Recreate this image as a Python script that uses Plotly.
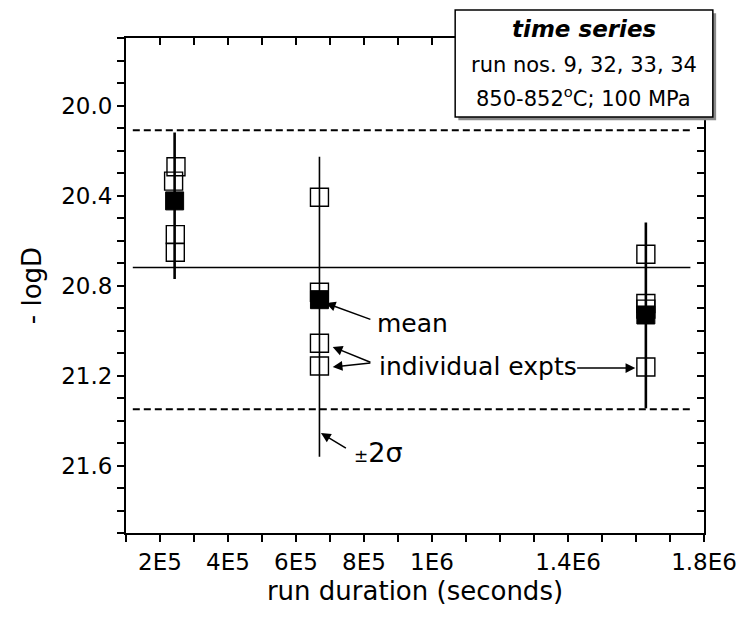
import plotly.graph_objects as go

# ---- data ----
group_x = [2.43e5, 6.69e5, 1.629e6]
group_mean = [20.424, 20.863, 20.931]
group_top = [20.12, 20.228, 20.52]      # -2 sigma end (upper on plot)
group_bottom = [20.771, 21.561, 21.346]  # +2 sigma end (lower on plot)
bar_width = [2.6, 1.6, 2.6]

indiv_x = [2.47e5, 2.40e5, 2.45e5, 2.45e5,
           6.69e5, 6.69e5, 6.69e5, 6.69e5,
           1.629e6, 1.629e6, 1.629e6, 1.629e6]
indiv_y = [20.272, 20.336, 20.574, 20.652,
           20.408, 20.830, 21.057, 21.158,
           20.661, 20.880, 20.905, 21.162]

overall_mean = 20.72
sigma_lines = [20.11, 21.35]
ref_x = [1.2e5, 1.76e6]

x_ticks = [i * 1e5 for i in range(1, 19)]
x_labels = {2e5: "2E5", 4e5: "4E5", 6e5: "6E5", 8e5: "8E5", 1e6: "1E6",
            1.4e6: "1.4E6", 1.8e6: "1.8E6"}
y_ticks = [round(19.7 + 0.1 * i, 1) for i in range(23)]
y_labels = {20.0: "20.0", 20.4: "20.4", 20.8: "20.8", 21.2: "21.2", 21.6: "21.6"}

FONT = "DejaVu Sans, Liberation Sans, Arial, sans-serif"

fig = go.Figure()

# reference lines
for yv in sigma_lines:
    fig.add_trace(go.Scatter(x=ref_x, y=[yv, yv], mode="lines",
                             line=dict(color="black", width=1.8, dash="7px,4px"),
                             showlegend=False, hoverinfo="skip"))
fig.add_trace(go.Scatter(x=ref_x, y=[overall_mean, overall_mean], mode="lines",
                         line=dict(color="black", width=1.6),
                         showlegend=False, hoverinfo="skip"))

# error bars (+-2 sigma) as vertical lines
for gx, gt, gb, w in zip(group_x, group_top, group_bottom, bar_width):
    fig.add_trace(go.Scatter(x=[gx, gx], y=[gt, gb], mode="lines",
                             line=dict(color="black", width=w),
                             showlegend=False, hoverinfo="skip"))

# individual experiments
fig.add_trace(go.Scatter(x=indiv_x, y=indiv_y, mode="markers",
                         marker=dict(symbol="square-open", size=18, color="black",
                                     line=dict(width=1.4, color="black")),
                         showlegend=False))
# means
fig.add_trace(go.Scatter(x=group_x, y=group_mean, mode="markers",
                         marker=dict(symbol="square", size=18, color="black",
                                     line=dict(width=1, color="black")),
                         showlegend=False))

# dummy trace to activate mirror axes (top / right ticks pointing inward)
fig.add_trace(go.Scatter(x=[None], y=[None], xaxis="x2", yaxis="y2",
                         showlegend=False, hoverinfo="skip"))

axis_common = dict(showgrid=False, zeroline=False, showline=True,
                   linecolor="black", linewidth=2, tickcolor="black",
                   tickwidth=1.6, ticklen=7)

fig.update_layout(
    width=749, height=621,
    margin=dict(l=126, r=33, t=38, b=88),
    paper_bgcolor="white", plot_bgcolor="white",
    font=dict(family=FONT, color="black"),
    xaxis=dict(range=[1e5, 1.8e6], tickmode="array", tickvals=x_ticks,
               ticktext=[x_labels.get(v, "") for v in x_ticks], ticks="outside",
               tickfont=dict(size=23, family=FONT, color="black"),
               title=dict(text="run duration (seconds)", font=dict(size=26, family=FONT),
                          standoff=8),
               **axis_common),
    yaxis=dict(range=[21.9, 19.7], tickmode="array", tickvals=y_ticks,
               ticktext=[y_labels.get(v, "") for v in y_ticks], ticks="outside",
               tickfont=dict(size=23, family=FONT, color="black"),
               title=dict(text="- logD", font=dict(size=26, family=FONT), standoff=12),
               **axis_common),
    xaxis2=dict(range=[1e5, 1.8e6], overlaying="x", side="top", tickmode="array",
                tickvals=x_ticks, showticklabels=False, ticks="inside", **axis_common),
    yaxis2=dict(range=[21.9, 19.7], overlaying="y", side="right", tickmode="array",
                tickvals=y_ticks, showticklabels=False, ticks="inside", **axis_common),
)

# info box (shadow + box) in paper coordinates
fig.add_shape(type="rect", xref="paper", yref="paper", layer="above",
              x0=0.575, x1=1.021, y0=0.834, y1=1.050,
              fillcolor="#8a8a8a", line=dict(width=0))
fig.add_shape(type="rect", xref="paper", yref="paper", layer="above",
              x0=0.5695, x1=1.0153, y0=0.8404, y1=1.0566,
              fillcolor="white", line=dict(color="black", width=1.5))
box_cx = 0.792
fig.add_annotation(xref="paper", yref="paper", x=box_cx, y=1.019, showarrow=False,
                   xanchor="center", yanchor="middle",
                   text="<b><i>time series</i></b>", font=dict(size=23, family=FONT))
fig.add_annotation(xref="paper", yref="paper", x=box_cx, y=0.945, showarrow=False,
                   xanchor="center", yanchor="middle",
                   text="run nos. 9, 32, 33, 34", font=dict(size=21, family=FONT))
fig.add_annotation(xref="paper", yref="paper", x=box_cx, y=0.880, showarrow=False,
                   xanchor="center", yanchor="middle",
                   text="850-852<sup>o</sup>C; 100 MPa", font=dict(size=21, family=FONT))

# text labels
fig.add_annotation(x=8.318e5, y=20.967, xanchor="left", yanchor="middle", showarrow=False,
                   text="mean", font=dict(size=25, family=FONT))
fig.add_annotation(x=8.376e5, y=21.162, xanchor="left", yanchor="middle", showarrow=False,
                   text="individual expts", font=dict(size=25, family=FONT))
fig.add_annotation(x=7.656e5, y=21.54, xanchor="left", yanchor="middle", showarrow=False,
                   text="<span style='font-size:17px'>±</span>2σ", font=dict(size=27, family=FONT))

# arrows
arrows = [
    ((6.878e5, 20.878), (8.232e5, 20.953)),
    ((7.08e5, 21.073), (8.232e5, 21.144)),
    ((7.08e5, 21.162), (8.232e5, 21.144)),
    ((1.598e6, 21.167), (1.4225e6, 21.167)),
    ((6.734e5, 21.456), (7.512e5, 21.527)),
]
for (tx, ty), (sx, sy) in arrows:
    fig.add_annotation(x=tx, y=ty, ax=sx, ay=sy, axref="x", ayref="y", text="",
                       showarrow=True, arrowhead=2, arrowsize=1.3, arrowwidth=1.5,
                       arrowcolor="black")

fig.write_html("out.html")
